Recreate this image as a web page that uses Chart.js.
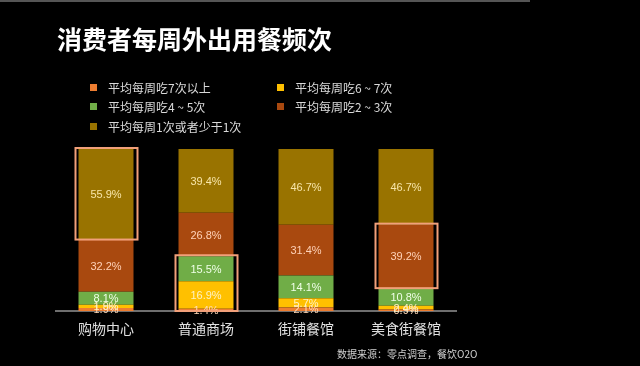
<!DOCTYPE html>
<html>
<head>
<meta charset="utf-8">
<script src="https://cdn.jsdelivr.net/npm/chart.js@4"></script>
<style>
  html, body { margin: 0; padding: 0; background: #000; overflow: hidden; }
  canvas { display: block; }
</style>
</head>
<body>
<canvas id="chart" width="640" height="366"></canvas>
<script>
const categories = ["购物中心", "普通商场", "街铺餐馆", "美食街餐馆"];
const seriesNames = [
  "平均每周吃7次以上",
  "平均每周吃6 ~ 7次",
  "平均每周吃4 ~ 5次",
  "平均每周吃2 ~ 3次",
  "平均每周1次或者少于1次",
];
const sevenPlus = [1.9, 1.4, 2.1, 0.9];
const sixToSeven = [1.9, 16.9, 5.7, 2.4];
const fourToFive = [8.1, 15.5, 14.1, 10.8];
const twoToThree = [32.2, 26.8, 31.4, 39.2];
const onceOrLess = [55.9, 39.4, 46.7, 46.7];

const colors = ["#ED7D31", "#FFC000", "#70AD47", "#A9490F", "#997300"];
const labelColors = ["#FFD9B8", "#FFF2C0", "#F0FFE8", "#FFD2B8", "#F8E6A8"];

// boxes drawn around some segments: category index, first and last dataset
const highlights = [
  { cat: 0, from: 4, to: 4 },
  { cat: 1, from: 0, to: 2 },
  { cat: 3, from: 3, to: 3 },
];

const font = "'Noto Sans CJK SC', 'Noto Sans', sans-serif";

const decorPlugin = {
  id: "decor",
  beforeDraw(chart) {
    let ctx = chart.ctx;
    ctx.save();
    ctx.fillStyle = "#000";
    ctx.fillRect(0, 0, chart.width, chart.height);
    ctx.fillStyle = "#555";
    ctx.fillRect(0, 0, 530, 2);
    // title
    ctx.fillStyle = "#fff";
    ctx.font = "bold 25px " + font;
    ctx.textBaseline = "alphabetic";
    ctx.fillText("消费者每周外出用餐频次", 57, 49);
    // legend in two columns
    ctx.font = "12px " + font;
    ctx.textBaseline = "middle";
    let spots = [
      [93, 88], [280, 88], [93, 107], [280, 107], [93, 127],
    ];
    chart.data.datasets.forEach((ds, d) => {
      let [x, y] = spots[d];
      ctx.fillStyle = colors[d];
      ctx.fillRect(x - 3, y - 4, 7, 7);
      ctx.fillStyle = "#d9d9d9";
      ctx.fillText(ds.label, x + 15, y);
    });
    // source
    ctx.font = "10px " + font;
    ctx.fillStyle = "#d0d0d0";
    ctx.fillText("数据来源：零点调查，餐饮O2O", 337, 354);
    ctx.restore();
  },
  afterDatasetsDraw(chart) {
    let ctx = chart.ctx;
    ctx.save();
    // value labels in the middle of each segment
    ctx.font = "11px Arial, 'Liberation Sans', sans-serif";
    ctx.textAlign = "center";
    ctx.textBaseline = "middle";
    chart.data.datasets.forEach((ds, d) => {
      chart.getDatasetMeta(d).data.forEach((bar, i) => {
        ctx.fillStyle = labelColors[d];
        ctx.fillText(ds.data[i].toFixed(1) + "%", bar.x, (bar.y + bar.base) / 2 + 1);
      });
    });
    // highlight boxes
    ctx.strokeStyle = "#F2A07A";
    ctx.lineWidth = 2;
    highlights.forEach((h) => {
      let top = chart.getDatasetMeta(h.to).data[h.cat];
      let bottom = chart.getDatasetMeta(h.from).data[h.cat];
      let left = top.x - top.width / 2 - 3;
      let right = top.x + top.width / 2 + 4;
      ctx.strokeRect(left, top.y - 1, right - left, bottom.base - top.y + 1);
    });
    ctx.restore();
  },
};

new Chart(document.getElementById("chart"), {
  type: "bar",
  data: {
    labels: categories,
    datasets: [sevenPlus, sixToSeven, fourToFive, twoToThree, onceOrLess].map((values, d) => ({
      label: seriesNames[d],
      data: values,
      backgroundColor: colors[d],
      borderWidth: 0,
      barPercentage: 0.55,
      categoryPercentage: 1,
    })),
  },
  options: {
    responsive: false,
    animation: false,
    devicePixelRatio: 1,
    layout: {
      padding: { left: 56, right: 184, top: 149, bottom: 0 },
    },
    plugins: {
      legend: { display: false },
      tooltip: { enabled: false },
    },
    scales: {
      x: {
        stacked: true,
        grid: { display: false, drawTicks: false },
        border: { display: true, color: "#6e6e6e", width: 2 },
        ticks: {
          color: "#e0e0e0",
          padding: 9,
          font: { family: font, size: 14 },
        },
        afterFit: (scale) => {
          scale.height = 55;
        },
      },
      y: {
        stacked: true,
        display: false,
        min: 0,
        max: 100,
      },
    },
  },
  plugins: [decorPlugin],
});
</script>
</body>
</html>
